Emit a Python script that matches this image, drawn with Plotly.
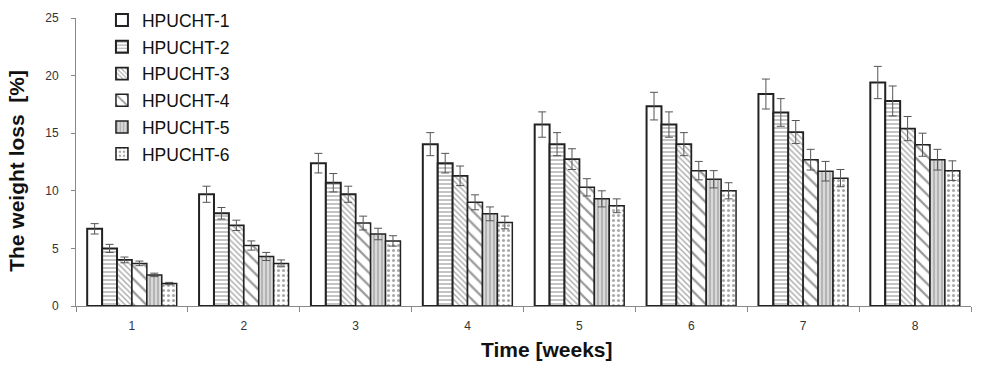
import plotly.graph_objects as go

weeks = ["1", "2", "3", "4", "5", "6", "7", "8"]
series_names = ["HPUCHT-1", "HPUCHT-2", "HPUCHT-3", "HPUCHT-4", "HPUCHT-5", "HPUCHT-6"]

hp1 = [6.7, 9.7, 12.4, 14.05, 15.75, 17.35, 18.4, 19.4]
hp2 = [5.0, 8.05, 10.7, 12.4, 14.05, 15.75, 16.8, 17.8]
hp3 = [4.0, 7.0, 9.7, 11.3, 12.75, 14.05, 15.1, 15.4]
hp4 = [3.7, 5.25, 7.2, 9.0, 10.3, 11.75, 12.7, 14.0]
hp5 = [2.7, 4.3, 6.25, 8.0, 9.3, 11.0, 11.7, 12.7]
hp6 = [1.95, 3.7, 5.65, 7.25, 8.7, 10.0, 11.1, 11.75]

err1 = [0.45, 0.7, 0.85, 1.0, 1.1, 1.2, 1.3, 1.4]
err2 = [0.35, 0.5, 0.8, 0.85, 1.0, 1.1, 1.2, 1.3]
err3 = [0.25, 0.45, 0.7, 0.85, 0.9, 1.0, 1.0, 1.05]
err4 = [0.2, 0.4, 0.6, 0.65, 0.75, 0.8, 0.9, 1.0]
err5 = [0.15, 0.35, 0.5, 0.6, 0.7, 0.75, 0.85, 0.9]
err6 = [0.1, 0.3, 0.45, 0.55, 0.6, 0.7, 0.75, 0.85]

values = [hp1, hp2, hp3, hp4, hp5, hp6]
errors = [err1, err2, err3, err4, err5, err6]

x_title = "Time [weeks]"
y_title = "The weight loss&nbsp;&nbsp;[%]"

styles = [
    dict(shape="", fg="#000000", bg="#ffffff", size=8, sol=0.3, lw=2.0),
    dict(shape="-", fg="#555555", bg="#ffffff", size=4, sol=0.35, lw=2.0),
    dict(shape="\\", fg="#555555", bg="#ffffff", size=4, sol=0.35, lw=1.8),
    dict(shape="\\", fg="#333333", bg="#ffffff", size=9, sol=0.25, lw=1.5),
    dict(shape="|", fg="#888888", bg="#d9d9d9", size=4, sol=0.45, lw=1.5),
    dict(shape=".", fg="#555555", bg="#ffffff", size=5, sol=0.3, lw=1.5),
]

fig = go.Figure()
for i, (name, vals, errs, st) in enumerate(zip(series_names, values, errors, styles)):
    fig.add_trace(go.Bar(
        x=weeks, y=vals, name=name, legendgroup="g%d" % i,
        marker=dict(
            color=st["bg"],
            line=dict(color="#222222", width=st["lw"]),
            pattern=dict(shape=st["shape"], fgcolor=st["fg"], bgcolor=st["bg"],
                         size=st["size"], solidity=st["sol"]),
        ),
        error_y=dict(type="data", array=errs, visible=True, color="#555555",
                     thickness=1, width=4),
    ))

fig.update_layout(
    width=981, height=367,
    paper_bgcolor="white", plot_bgcolor="white",
    margin=dict(l=76, r=10, t=18, b=61, autoexpand=False),
    barmode="group", bargap=0.2, bargroupgap=0,
    font=dict(family="Liberation Sans, Arial, sans-serif", color="#222222"),
    legend=dict(
        x=0.029, y=1.055, xanchor="left", yanchor="top",
        bgcolor="rgba(0,0,0,0)",
        font=dict(size=17.5, color="#111111"),
        tracegroupgap=1,
        itemwidth=30,
    ),
    showlegend=True,
    annotations=[
        dict(text="<b>" + x_title + "</b>", xref="paper", yref="paper",
             x=0.526, y=-0.152, xanchor="center", yanchor="middle", showarrow=False,
             font=dict(size=21, color="#111111")),
        dict(text="<b>" + y_title + "</b>", xref="paper", yref="paper",
             x=-0.066, y=0.469, xanchor="center", yanchor="middle", showarrow=False,
             textangle=-90, font=dict(size=21, color="#111111")),
    ],
)
fig.update_xaxes(
    type="category", showline=True, linecolor="#888888", linewidth=1,
    ticks="outside", tickson="boundaries", ticklen=5, tickcolor="#888888",
    tickfont=dict(size=12, color="#333333"), ticklabelstandoff=9,
    showgrid=False, zeroline=False, automargin=False,
)
fig.update_yaxes(
    range=[0, 25], dtick=5, showline=True, linecolor="#888888", linewidth=1,
    ticks="outside", ticklen=4, tickcolor="#888888",
    tickfont=dict(size=12, color="#333333"), ticklabelstandoff=10,
    showgrid=False, zeroline=False, automargin=False,
)

fig.write_html("out.html", config={"displayModeBar": False},
               post_script="document.body.style.margin='0';")
